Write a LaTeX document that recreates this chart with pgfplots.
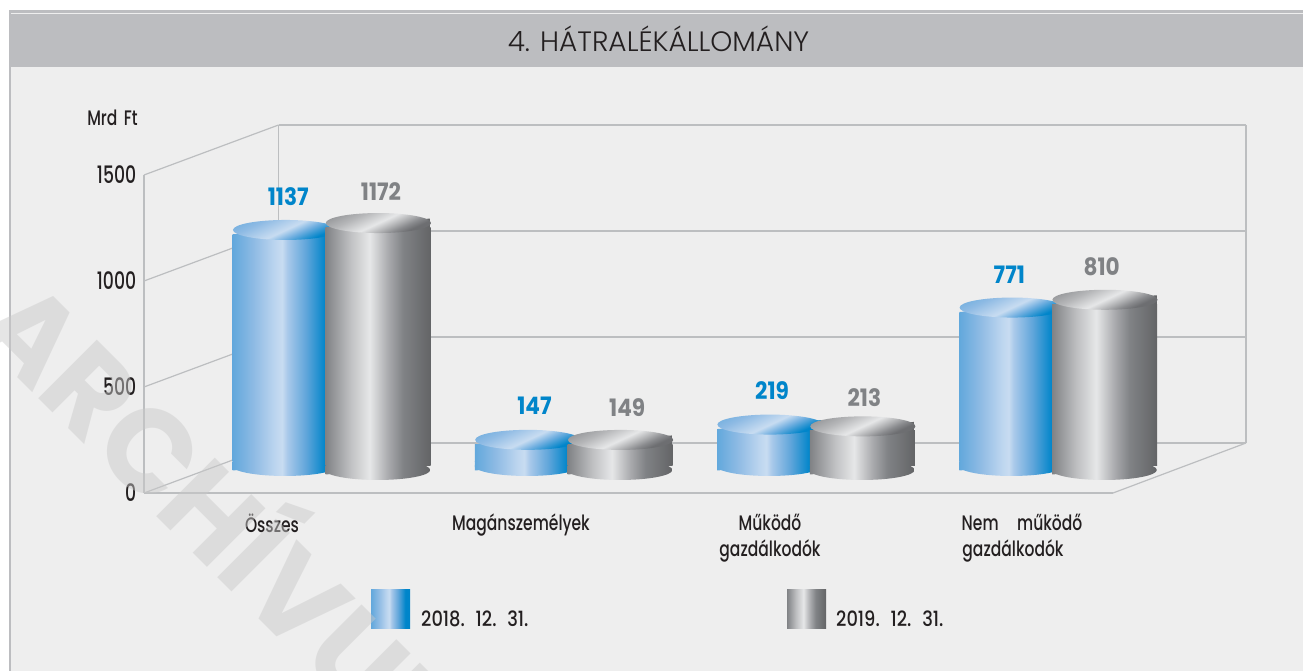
\documentclass[border=0pt]{standalone}
\usepackage{fontspec}
\usepackage{pgfplots}
\pgfplotsset{compat=1.18}
\setmainfont{Poppins}
\newfontfamily\labfam[FakeStretch=0.74,WordSpace=1.6]{Poppins Medium}
\newfontfamily\legfam[FakeStretch=0.85,WordSpace=2.0]{Poppins Medium}
\newfontfamily\ticfam[FakeStretch=0.72]{Poppins Medium}
\newfontfamily\valfam[FakeStretch=0.9]{Poppins}
\newfontfamily\titfam{Poppins Light}
\newcommand\ticf{\ticfam\fontsize{24pt}{26pt}\selectfont}
\newcommand\labf{\labfam\fontsize{21pt}{26pt}\selectfont}
\newcommand\legf{\legfam\fontsize{21pt}{26pt}\selectfont}
\newcommand\valf{\valfam\bfseries\fontsize{24pt}{26pt}\selectfont}
\definecolor{framec}{HTML}{BCBEC0}
\definecolor{bandc}{HTML}{BCBDC0}
\definecolor{panelc}{HTML}{EEEEEE}
\definecolor{blueval}{HTML}{0085CA}
\definecolor{grayval}{HTML}{808285}
\definecolor{txt}{HTML}{231F20}
\pgfdeclarehorizontalshading{cylblue}{100bp}{
 rgb(0bp)=(0.384,0.659,0.863);
 rgb(25bp)=(0.384,0.659,0.863);
 rgb(35bp)=(0.56,0.733,0.894);
 rgb(45bp)=(0.737,0.835,0.937);
 rgb(48.5bp)=(0.784,0.863,0.945);
 rgb(51bp)=(0.663,0.788,0.918);
 rgb(60bp)=(0.373,0.647,0.855);
 rgb(69bp)=(0,0.522,0.792);
 rgb(100bp)=(0,0.522,0.792)}
\pgfdeclarehorizontalshading{cylgray}{100bp}{
 rgb(0bp)=(0.502,0.51,0.522);
 rgb(25bp)=(0.502,0.51,0.522);
 rgb(37bp)=(0.753,0.757,0.765);
 rgb(46bp)=(0.902,0.906,0.91);
 rgb(55bp)=(0.659,0.663,0.675);
 rgb(62bp)=(0.502,0.51,0.522);
 rgb(75bp)=(0.388,0.392,0.4);
 rgb(100bp)=(0.388,0.392,0.4)}
\pgfdeclareverticalshading{topblue}{100bp}{
 rgb(0bp)=(0,0.522,0.792);
 rgb(43bp)=(0,0.522,0.792);
 rgb(45bp)=(0.22,0.6,0.83);
 rgb(47bp)=(0.45,0.69,0.88);
 rgb(50bp)=(0.784,0.863,0.945);
 rgb(56bp)=(0.56,0.733,0.894);
 rgb(62bp)=(0.384,0.659,0.863);
 rgb(100bp)=(0.384,0.659,0.863)}
\pgfdeclareverticalshading{topgray}{100bp}{
 rgb(0bp)=(0.427,0.431,0.443);
 rgb(43bp)=(0.427,0.431,0.443);
 rgb(45bp)=(0.54,0.545,0.557);
 rgb(47bp)=(0.69,0.694,0.702);
 rgb(50bp)=(0.902,0.906,0.91);
 rgb(55bp)=(0.71,0.714,0.722);
 rgb(62bp)=(0.502,0.51,0.522);
 rgb(100bp)=(0.502,0.51,0.522)}
% plot marks: caps of the cylinders
\newcommand\declcaps[3]{%
 \pgfdeclareplotmark{captop#1}{%
  \begin{scope}[x=1pt,y=1pt,draw=none]
   \begin{scope}\path[clip,draw=none] (-52.5,0)--(52.3,0)--(52.3,9)--cycle;
    \path[shade,draw=none,shading=#2] (-52.5,-20) rectangle (52.5,20);\end{scope}
   \begin{scope}\path[clip,draw=none,rotate=5] (0.39,4.48) ellipse [x radius=52.6,y radius=10];
    \path[shade,draw=none,shading=#3,shading angle=25] (-70,-65.5) rectangle (70,74.5);\end{scope}
  \end{scope}}%
 \pgfdeclareplotmark{capbot#1}{%
  \begin{scope}[x=1pt,y=1pt,draw=none]
   \begin{scope}\path[clip,draw=none] (-52.5,0.3)--(52.5,0.3)--(-52.5,-9)--cycle;
    \path[shade,draw=none,shading=#2] (-52.5,-25) rectangle (52.5,25);\end{scope}
   \begin{scope}\path[clip,draw=none,rotate=5] (-0.39,-4.48) ellipse [x radius=52.6,y radius=10];
    \path[shade,draw=none,shading=#2] (-52.5,-25) rectangle (52.5,25);\end{scope}
  \end{scope}}%
}
\declcaps{b}{cylblue}{topblue}
\declcaps{g}{cylgray}{topgray}
\pgfplotsset{
 cyl/.style={hide axis,clip=false,x=242.2pt,y=0.212pt,enlargelimits=false,
   anchor=south west,
   /pgf/number format/assume math mode=true,/pgf/number format/1000 sep={}},
 wall/.style={framec,line width=1.2pt,no markers,forget plot},
 barb/.style={ybar,bar width=105pt,bar shift=0pt,draw=none,shade,shading=cylblue},
 barg/.style={ybar,bar width=105pt,bar shift=0pt,draw=none,shade,shading=cylgray},
 caps/.style={only marks,draw=none,mark options={draw=none},
   visualization depends on={\thisrow{dx}\as\dxv},
   visualization depends on={\thisrow{dy}\as\dyv},
   nodes near coords,
   every node near coord/.style={font=\valf,text=#1,anchor=center,
     xshift=\dxv pt,yshift=\dyv pt}},
}
\begin{document}
\begin{tikzpicture}[x=1pt,y=1pt]
\useasboundingbox (0,0) rectangle (1303,671);
\clip (0,0) rectangle (1303,671);
\fill[white] (0,0) rectangle (1303,671);
\fill[panelc] (8.5,0) rectangle (1303,661);
\fill[bandc] (8.5,0) rectangle (10.5,661);
\fill[bandc] (8.5,658) rectangle (1303,661);
\fill[bandc] (8.5,604) rectangle (1303,657);
\node[font=\titfam\fontsize{28pt}{30pt}\selectfont,text=txt] at (658.5,632) {4. HÁTRALÉKÁLLOMÁNY};

% frame with the value axis
\begin{axis}[
 at={(144pt,178pt)},anchor=south west,x=1pt,y=0.212pt,
 xmin=144,xmax=1113,ymin=0,ymax=1500,enlargelimits=false,clip=false,
 axis x line*=bottom,axis y line*=left,
 axis line style={framec,line width=1.3pt,-},
 ytick={0,500,1000,1500},
 xtick={272,521,770,1022},
 xticklabels={Összes,Magánszemélyek,Működő\\gazdálkodók,Nem\hspace{12pt} működő\\gazdálkodók\hspace*{18pt}},
 tick style={draw=none},
 tick align=outside,
 /pgf/number format/assume math mode=true,/pgf/number format/1000 sep={},
 yticklabel style={font=\ticf,text=txt,anchor=east,xshift=0pt,yshift=0pt},
 xticklabel style={font=\labf,text=txt,align=center,anchor=north,yshift=-13pt},
]
\addplot[wall] coordinates {(144,0)(278.5,235.8)};
\addplot[wall] coordinates {(144,500)(278.5,735.8)};
\addplot[wall] coordinates {(144,1000)(278.5,1235.8)};
\addplot[wall] coordinates {(144,1500)(278.5,1735.8)};
\addplot[wall] coordinates {(278.5,235.8)(278.5,1735.8)};
\addplot[wall] coordinates {(1246,235.8)(1246,1735.8)};
\addplot[wall] coordinates {(278.5,235.8)(1246,235.8)};
\addplot[wall] coordinates {(278.5,735.8)(1246,735.8)};
\addplot[wall] coordinates {(278.5,1235.8)(1246,1235.8)};
\addplot[wall] coordinates {(278.5,1735.8)(1246,1735.8)};
\addplot[wall] coordinates {(1113,0)(1246,235.8)};
\node[font=\labf,text=txt,anchor=center] at (axis cs:112.5,1769) {Mrd Ft};
\end{axis}

% 2018. 12. 31.
\begin{axis}[cyl,at={(0pt,209.5pt)},xmin=-1.17754,xmax=4.2024,ymin=66,ymax=2242.9]
\addplot[only marks,draw=none,mark=capbotb,mark options={draw=none}] coordinates {(0,66)(1,66)(2,66)(3,66)};
\addplot[barb] coordinates {(0,1137)};
\addplot[barb] coordinates {(1,147)};
\addplot[barb] coordinates {(2,219)};
\addplot[barb] coordinates {(3,771)};
\addplot[caps=blueval,mark=captopb] table {
x y dx dy
0 1137 3 37.5
1 147 7 38.5
2 219 2.5 38
3 771 -2.5 37.5
};
\end{axis}

% 2019. 12. 31.
\begin{axis}[cyl,at={(0pt,205.5pt)},xmin=-1.56069,xmax=3.81915,ymin=49.5,ymax=2245.2]
\addplot[only marks,draw=none,mark=capbotg,mark options={draw=none}] coordinates {(0,49.5)(1,49.5)(2,49.5)(3,49.5)};
\addplot[barg] coordinates {(0,1172)};
\addplot[barg] coordinates {(1,149)};
\addplot[barg] coordinates {(2,213)};
\addplot[barg] coordinates {(3,810)};
\addplot[caps=grayval,mark=captopg] table {
x y dx dy
0 1172 3 36
1 149 7 36.5
2 213 2 33
3 810 -3 37.5
};
\end{axis}

% legend
\shade[shading=cylblue] (371,42) rectangle (410,81);
\shade[shading=cylgray] (787,42) rectangle (826,81);
\node[font=\legf,text=txt,anchor=west,inner sep=0pt] at (421,52) {2018. 12. 31.};
\node[font=\legf,text=txt,anchor=west,inner sep=0pt] at (836,52) {2019. 12. 31.};

% watermark
\node[font=\bfseries\fontsize{118pt}{122pt}\selectfont,text=black!21,opacity=0.47,anchor=base west,rotate=-45,inner sep=0pt] at (-28,339) {ARCHÍVUM};
\end{tikzpicture}
\end{document}
